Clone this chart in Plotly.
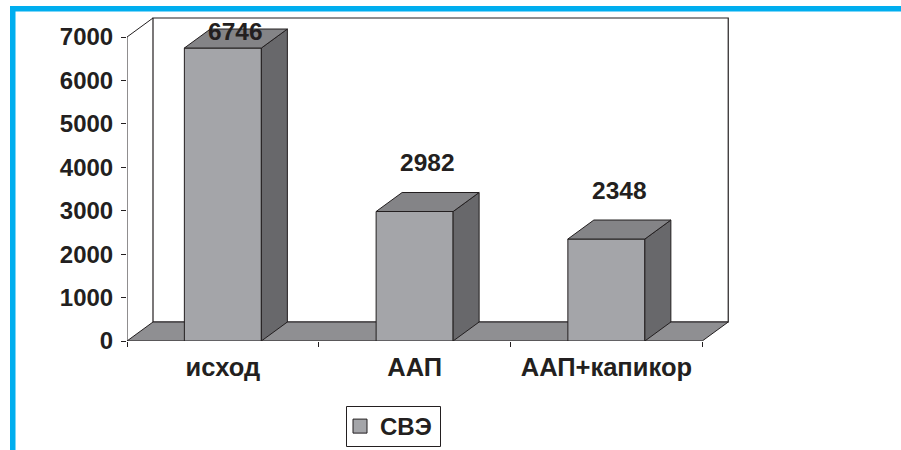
import plotly.graph_objects as go

# ---- data ----
categories = ["исход", "ААП", "ААП+капикор"]
values = [6746, 2982, 2348]
series_name = "СВЭ"
y_ticks = [0, 1000, 2000, 3000, 4000, 5000, 6000, 7000]
y_max = 7000

# ---- style / geometry constants ----
W, H = 901, 450
ML, MR, MT, MB = 127, 170, 15, 109
PLOT_W = W - ML - MR
PLOT_H = H - MT - MB
X_RANGE = [-0.5, 2.65]
PX_PER_Y = (341 - 37) / 7000.0
Y_RANGE = [0, PLOT_H / PX_PER_Y]
PX_PER_X = PLOT_W / (X_RANGE[1] - X_RANGE[0])
DX = 26 / PX_PER_X          # depth offset in x data units
DY = 19 / PX_PER_Y          # depth offset in y data units
HALF_W = 38.5 / PX_PER_X    # half width of bar front
LABEL_OFF = 30 / PX_PER_Y
LABEL_CAP = (341 - 31) / PX_PER_Y

FONT = "Arial, 'Liberation Sans', sans-serif"
TXT = "#231f20"
EDGE = "#231f20"
FRONT = "#a4a5a9"
TOP = "#848487"
SIDE = "#68686b"
FLOOR = "#8f8f92"
BLUE = "#00aeef"

fig = go.Figure()


def poly(xs, ys, fill, width=1.0, color=EDGE):
    fig.add_trace(go.Scatter(
        x=xs + [xs[0]], y=ys + [ys[0]], mode="lines", fill="toself",
        fillcolor=fill, line=dict(color=color, width=width),
        showlegend=False, hoverinfo="skip", cliponaxis=False))


def line(xs, ys, width=1.0):
    fig.add_trace(go.Scatter(
        x=xs, y=ys, mode="lines", line=dict(color=EDGE, width=width),
        showlegend=False, hoverinfo="skip", cliponaxis=False))


x0 = -0.5
x1 = len(categories) - 0.5

# back wall
poly([x0 + DX, x1 + DX, x1 + DX, x0 + DX], [DY, DY, y_max + DY, y_max + DY], "white", 1.2)
# floor
poly([x0, x1, x1 + DX, x0 + DX], [0, 0, DY, DY], FLOOR)
# front axis and top-left diagonal
line([x0, x0, x0 + DX], [0, y_max, y_max + DY])

# bars
for i, v in enumerate(values):
    c = i
    l, r = c - HALF_W, c + HALF_W
    poly([l, r, r, l], [0, 0, v, v], FRONT)
    poly([r, r + DX, r + DX, r], [0, DY, v + DY, v], SIDE)
    poly([l, r, r + DX, l + DX], [v, v, v + DY, v + DY], TOP)
    fig.add_annotation(
        x=c + DX / 2, y=min(v + DY + LABEL_OFF, LABEL_CAP), text=str(v),
        showarrow=False, xanchor="center", yanchor="middle",
        font=dict(family=FONT, size=24.5, color=TXT, weight="bold"))

# legend entry
fig.add_trace(go.Scatter(
    x=[None], y=[None], mode="markers", name=series_name,
    marker=dict(symbol="square", size=14, color=FRONT, line=dict(color=EDGE, width=1)),
    showlegend=True))


def px_x(p):
    return (p - ML) / PLOT_W


def px_y(p):
    return (H - MB - p) / PLOT_H


# blue frame
fig.add_shape(type="rect", xref="paper", yref="paper",
              x0=px_x(10), x1=px_x(15.5), y0=px_y(6), y1=px_y(452),
              fillcolor=BLUE, line=dict(width=0), layer="above")
fig.add_shape(type="rect", xref="paper", yref="paper",
              x0=px_x(10), x1=px_x(905), y0=px_y(6), y1=px_y(11.5),
              fillcolor=BLUE, line=dict(width=0), layer="above")
# legend frame
fig.add_shape(type="rect", xref="paper", yref="paper",
              x0=px_x(346.5), x1=px_x(440.5), y0=px_y(446.5), y1=px_y(406.5),
              fillcolor="rgba(0,0,0,0)", line=dict(color=EDGE, width=1), layer="above")

fig.update_layout(
    width=W, height=H,
    margin=dict(l=ML, r=MR, t=MT, b=MB, pad=0, autoexpand=False),
    paper_bgcolor="white", plot_bgcolor="white",
    font=dict(family=FONT, color=TXT, size=23, weight="bold"),
    showlegend=True,
    legend=dict(x=px_x(340), y=px_y(404), xanchor="left", yanchor="top",
                borderwidth=0, bgcolor="rgba(0,0,0,0)",
                font=dict(family=FONT, size=24, color=TXT, weight="bold")),
    xaxis=dict(range=X_RANGE, showgrid=False, zeroline=False, showline=False,
               tickmode="array", tickvals=list(range(len(categories))),
               ticktext=categories, ticks="",
               tickfont=dict(family=FONT, size=25.5, color=TXT, weight="bold"),
               ticklabelstandoff=8,
               minor=dict(tickmode="array",
                          tickvals=[k - 0.5 for k in range(len(categories) + 1)],
                          ticks="outside", ticklen=5, tickcolor=EDGE, tickwidth=1,
                          showgrid=False),
               fixedrange=True),
    yaxis=dict(range=Y_RANGE, showgrid=False, zeroline=False, showline=False,
               tickmode="array", tickvals=y_ticks,
               ticktext=[str(t) for t in y_ticks],
               ticks="outside", ticklen=5, tickcolor=EDGE, tickwidth=1,
               tickfont=dict(family=FONT, size=24, color=TXT, weight="bold"),
               ticklabelstandoff=3,
               fixedrange=True),
)

fig.write_html("out.html")
